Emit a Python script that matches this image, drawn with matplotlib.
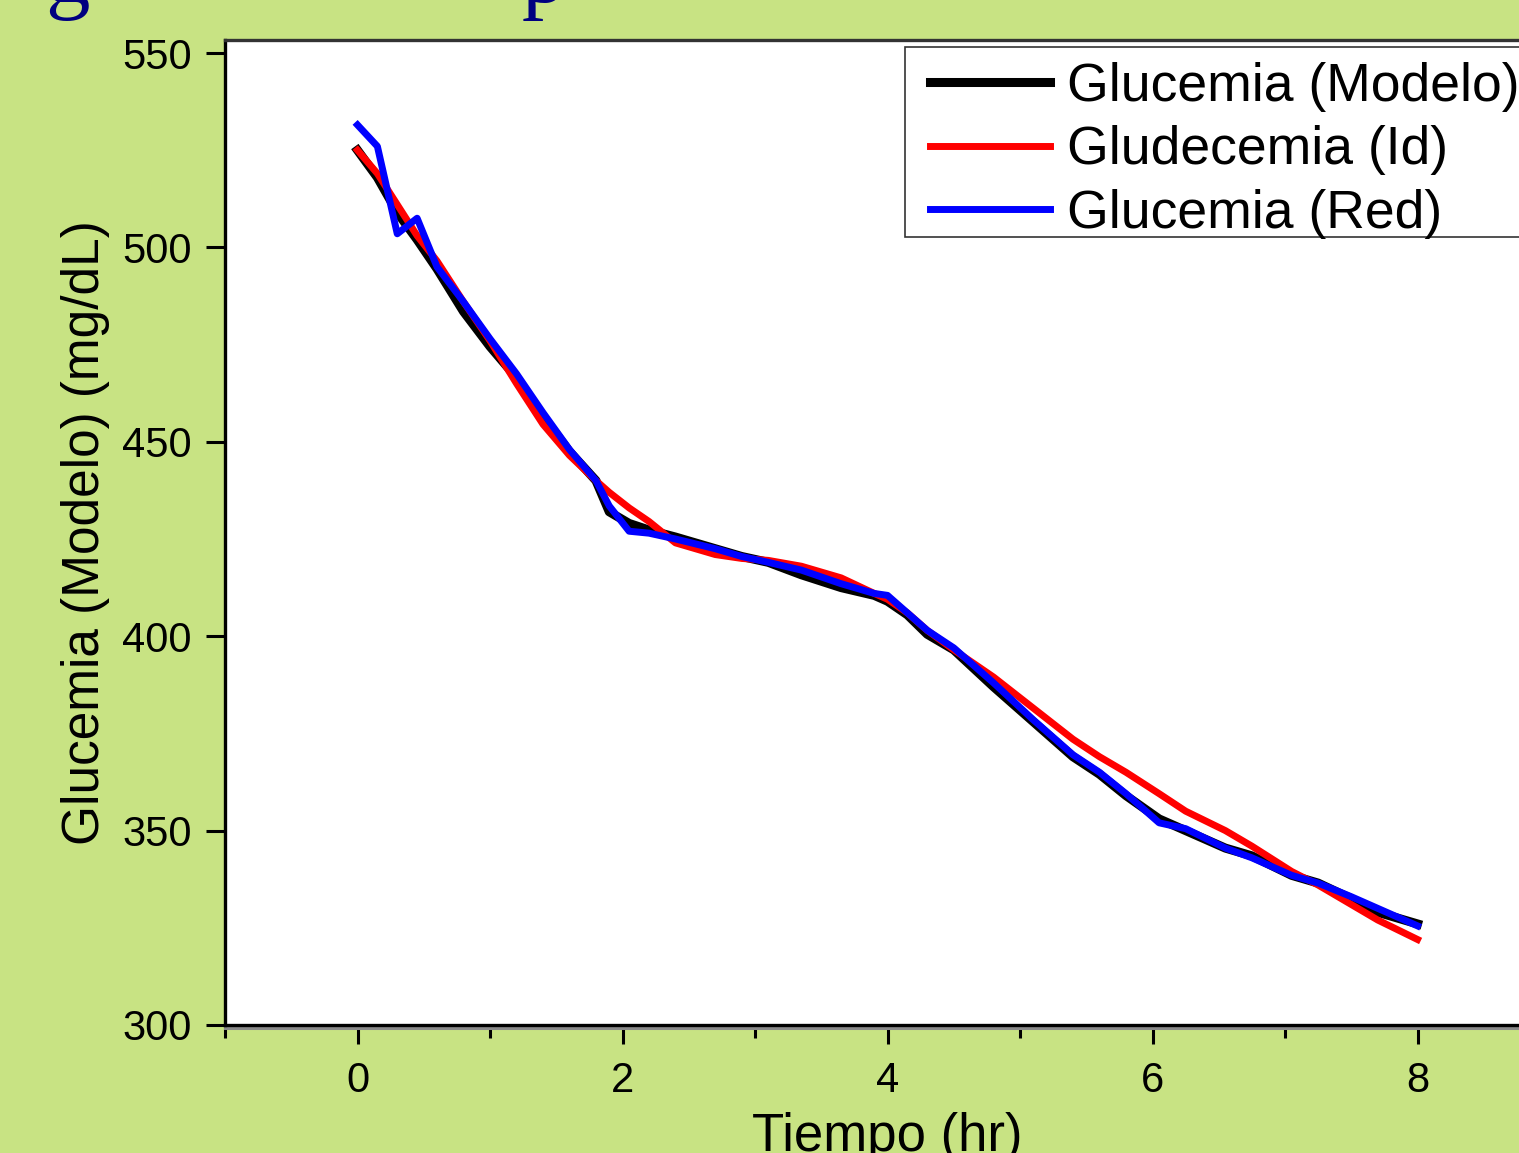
import numpy as np
import matplotlib.pyplot as plt
from matplotlib.ticker import MultipleLocator
from matplotlib.patches import Rectangle

# sample times (hr)
tiempo = [0, 0.15, 0.3, 0.45, 0.6, 0.8, 1.0, 1.2, 1.4, 1.6, 1.8, 1.9, 2.05, 2.2,
          2.4, 2.7, 2.9, 3.1, 3.35, 3.65, 3.9, 4.0, 4.15, 4.3, 4.5, 4.8, 5.1,
          5.4, 5.6, 5.8, 6.05, 6.25, 6.55, 6.75, 7.05, 7.25, 7.5, 7.7, 8.0]

# glucemia series (mg/dL)
modelo = [525, 518, 509, 502, 494.5, 483.5, 474.5, 466.5, 456.5, 447.5, 440, 432,
          429, 427.3, 425.5, 422.5, 420.5, 419, 415.8, 412.5, 410.5, 409, 405.5,
          400.5, 396.5, 387, 378, 369, 364.5, 359, 353, 350, 345.5, 343.5,
          338.5, 336.5, 332.5, 329, 326]
ident = [525, 519, 511, 503, 496.5, 486, 476, 465, 454.5, 446.5, 440, 437, 433,
         429.5, 424, 421, 420, 419.5, 418, 415, 411, 409.5, 406, 401.5, 396.5,
         389.5, 381.5, 373.5, 369, 365, 359.5, 355, 350, 346, 339.5, 336, 331,
         327, 322]
red = [531.5, 526, 503.5, 507.5, 495, 486, 476.5, 467.5, 457.5, 448, 440, 433.5,
       427, 426.5, 425, 422.5, 420.5, 419, 417, 413.5, 411, 410.5, 406, 401.5,
       397, 388, 378.5, 369.5, 365, 359.5, 352, 350.5, 345.5, 343, 338.5, 336.5,
       333, 330, 325.5]

labels = ['Glucemia (Modelo)', 'Gludecemia (Id)', 'Glucemia (Red)']

plt.rcParams['font.family'] = ['Liberation Sans', 'DejaVu Sans']

W, H = 1519, 1153
bg = '#C8E383'
fig = plt.figure(figsize=(W / 100, H / 100), dpi=100, facecolor=bg)

# axes: x=-1 at px 225, 132.5 px per hour; y 300 at px 1025, 550 at px 53
x0, x1 = -1, 9.6
y0, y1 = 300, 550 + 13 / 3.888
left = 225 / W
width = (x1 - x0) * 132.5 / W
bottom = 1 - 1025 / H
height = (1025 - 40) / H
ax = fig.add_axes([left, bottom, width, height], facecolor='white')

ax.plot(tiempo, modelo, color='black', lw=6.5, label=labels[0])
ax.plot(tiempo, ident, color='#FF0000', lw=5, label=labels[1])
ax.plot(tiempo, red, color='#0000FF', lw=5, label=labels[2])

ax.set_xlim(x0, x1)
ax.set_ylim(y0, y1)
ax.xaxis.set_major_locator(MultipleLocator(2))
ax.xaxis.set_minor_locator(MultipleLocator(1))
ax.set_yticks([300, 350, 400, 450, 500, 550])

ax.tick_params(axis='both', which='major', direction='out', length=14, width=2.2,
               labelsize=30, color='black')
ax.tick_params(axis='x', which='minor', direction='out', length=9, width=2.2)
ax.tick_params(axis='x', which='major', pad=12)
ax.tick_params(axis='y', which='major', pad=10)

ax.spines['right'].set_visible(False)
ax.spines['left'].set_linewidth(2.4)
ax.spines['bottom'].set_linewidth(2.4)
ax.spines['top'].set_linewidth(2.4)
ax.spines['top'].set_color('#333333')
# gray double line under the x axis
ax.plot([0, 1], [-0.0035, -0.0035], transform=ax.transAxes, color='#8a8a8a',
        lw=2.2, clip_on=False)

ax.set_xlabel('Tiempo (hr)', fontsize=38)
ax.xaxis.set_label_coords((887 - 225) / (width * W), -0.088)
ax.set_ylabel('Glucemia (Modelo) (mg/dL)', fontsize=37)
ax.yaxis.set_label_coords((110 - 225) / (width * W), 0.5)

# legend: frame drawn separately so it can run past the right edge
fig.patches.append(Rectangle((905 / W, 1 - 237 / H), 700 / W, 190 / H,
                             transform=fig.transFigure, facecolor='white',
                             edgecolor='#333333', lw=1.2, zorder=3))
leg = fig.legend(loc='upper left', bbox_to_anchor=(930 / W, 1 - 62 / H),
                 bbox_transform=fig.transFigure, fontsize=38.5, frameon=False,
                 borderpad=0, labelspacing=0.25, handlelength=2.25,
                 handletextpad=0.32, borderaxespad=0)
leg.set_zorder(4)

# descenders of the slide title showing at the top edge
fig.text(45 / W, 1 - 2 / H, 'g', fontsize=64, color='#000080',
         family='Liberation Serif', ha='left', va='baseline')
fig.text(522 / W, 1 - 2 / H, 'p', fontsize=64, color='#000080',
         family='Liberation Serif', ha='left', va='baseline')

fig.savefig('out.png', dpi=100, facecolor=bg)
